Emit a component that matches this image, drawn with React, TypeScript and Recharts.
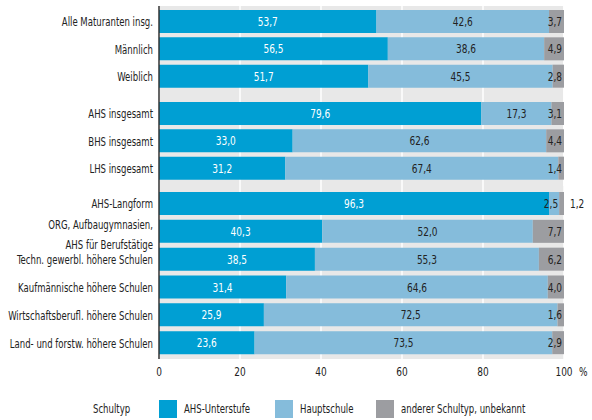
import React from 'react';
import { BarChart, Bar, XAxis, YAxis, CartesianGrid, LabelList } from 'recharts';

const categories = [
  'Alle Maturanten insg.',
  'Männlich',
  'Weiblich',
  'AHS insgesamt',
  'BHS insgesamt',
  'LHS insgesamt',
  'AHS-Langform',
  'ORG, Aufbaugymnasien,\nAHS für Berufstätige',
  'Techn. gewerbl. höhere Schulen',
  'Kaufmännische höhere Schulen',
  'Wirtschaftsberufl. höhere Schulen',
  'Land- und forstw. höhere Schulen',
];
const groupOf = [0, 0, 0, 1, 1, 1, 2, 2, 2, 2, 2, 2];
const ahsUnterstufe = [53.7, 56.5, 51.7, 79.6, 33.0, 31.2, 96.3, 40.3, 38.5, 31.4, 25.9, 23.6];
const hauptschule = [42.6, 38.6, 45.5, 17.3, 62.6, 67.4, 2.5, 52.0, 55.3, 64.6, 72.5, 73.5];
const andere = [3.7, 4.9, 2.8, 3.1, 4.4, 1.4, 1.2, 7.7, 6.2, 4.0, 1.6, 2.9];
const xTicks = [0, 20, 40, 60, 80, 100];
const legendTitle = 'Schultyp';
const seriesNames = ['AHS-Unterstufe', 'Hauptschule', 'anderer Schultyp, unbekannt'];

const FONT = "'DejaVu Sans Condensed', 'DejaVu Sans', sans-serif";
const FS = 12.5;
const SX_TEXT = 0.76; // the original uses a very narrow face
const SX_NUM = 0.8;
const C_AHS = '#009fd3';
const C_HS = '#85bcdb';
const C_OTHER = '#9c9da1';
const TXT = '#222';

const rows = categories.map((name, i) => ({
  name,
  group: groupOf[i],
  ahs: ahsUnterstufe[i],
  hs: hauptschule[i],
  other: andere[i],
}));

const fmt = (v: number) => v.toFixed(1).replace('.', ',');

// narrow text: squeezed horizontally around its anchor point
const NText = ({ x, y, anchor = 'start', sx = SX_TEXT, fill = TXT, children }: any) => (
  <text
    transform={`translate(${x},${y}) scale(${sx},1)`}
    x={0}
    y={0}
    textAnchor={anchor}
    fill={fill}
    fontFamily={FONT}
    fontSize={FS}
  >
    {children}
  </text>
);

const YTick = ({ x, y, payload }: any) => {
  const lines = String(payload.value).split('\n');
  if (lines.length > 1) {
    return (
      <g>
        <NText x={x} y={y - 3} anchor="end">{lines[0]}</NText>
        <NText x={x} y={y + 17} anchor="end">{lines[1]}</NText>
      </g>
    );
  }
  return <NText x={x} y={y + 4.5} anchor="end">{payload.value}</NText>;
};

const XTick = ({ x, y, payload }: any) => (
  <g>
    <NText x={x} y={y + 9} anchor="middle" sx={SX_NUM}>{payload.value}</NText>
    {payload.value === 100 && <NText x={x + 15} y={y + 9} sx={SX_NUM}>%</NText>}
  </g>
);

const ahsLabel = (props: any) => {
  const { x, y, width, height, value } = props;
  return (
    <NText x={x + width / 2} y={y + height / 2 + 4.5} anchor="middle" sx={SX_NUM} fill="#fff">
      {fmt(value)}
    </NText>
  );
};

const hsLabel = (props: any) => {
  const { x, y, width, height, value } = props;
  const small = width < 25;
  return (
    <NText
      x={small ? x + width - 1 : x + width / 2}
      y={y + height / 2 + 4.5}
      anchor={small ? 'end' : 'middle'}
      sx={SX_NUM}
    >
      {fmt(value)}
    </NText>
  );
};

const makeOtherLabel = (data: any[]) => (props: any) => {
  const { x, y, width, height, value, index } = props;
  const outside = data[index] && data[index].hs < 5;
  return (
    <NText
      x={outside ? x + width + 6 : x + width - 2}
      y={y + height / 2 + 4.5}
      anchor={outside ? 'start' : 'end'}
      sx={SX_NUM}
    >
      {fmt(value)}
    </NText>
  );
};

const GroupChart = ({ group, height, pad, showAxis }: any) => {
  const data = rows.filter((r) => r.group === group);
  return (
    <BarChart
      width={592}
      height={height}
      data={data}
      layout="vertical"
      margin={{ top: 0, right: 28, bottom: 0, left: 0 }}
      barSize={23}
    >
      <CartesianGrid horizontal={false} stroke="#fff" strokeWidth={1.5} fill="#e8e8e8" fillOpacity={1} />
      <XAxis
        type="number"
        domain={[0, 100]}
        ticks={xTicks}
        hide={!showAxis}
        axisLine={false}
        tickLine={false}
        tick={<XTick />}
        height={30}
      />
      <YAxis
        type="category"
        dataKey="name"
        width={159}
        interval={0}
        axisLine={{ stroke: '#333', strokeWidth: 1.5 }}
        tickLine={false}
        tickSize={0}
        tickMargin={6}
        tick={<YTick />}
        padding={pad}
      />
      <Bar dataKey="ahs" stackId="s" fill={C_AHS} isAnimationActive={false}>
        <LabelList dataKey="ahs" content={ahsLabel} />
      </Bar>
      <Bar dataKey="hs" stackId="s" fill={C_HS} isAnimationActive={false}>
        <LabelList dataKey="hs" content={hsLabel} />
      </Bar>
      <Bar dataKey="other" stackId="s" fill={C_OTHER} isAnimationActive={false}>
        <LabelList dataKey="other" content={makeOtherLabel(data)} />
      </Bar>
    </BarChart>
  );
};

const legendColors = [C_AHS, C_HS, C_OTHER];
const legendX = [159, 275, 376];

const App: React.FC = () => {
  return (
    <div style={{ position: 'absolute', left: 0, top: 0, width: 592, height: 420, background: '#fff' }}>
      <div style={{ position: 'absolute', left: 0, top: 6 }}>
        <GroupChart group={0} height={89} pad={{ top: 2, bottom: 5 }} />
        <GroupChart group={1} height={91} pad={{ top: 5, bottom: 4 }} />
        <GroupChart group={2} height={203} pad={{ top: 4, bottom: 2 }} showAxis />
      </div>
      <svg style={{ position: 'absolute', left: 0, top: 396 }} width={592} height={24}>
        <NText x={93} y={17}>{legendTitle}</NText>
        {seriesNames.map((n, i) => (
          <g key={n}>
            <rect x={legendX[i]} y={4} width={18} height={18} fill={legendColors[i]} />
            <NText x={legendX[i] + 25} y={17}>{n}</NText>
          </g>
        ))}
      </svg>
    </div>
  );
};

export default App;
